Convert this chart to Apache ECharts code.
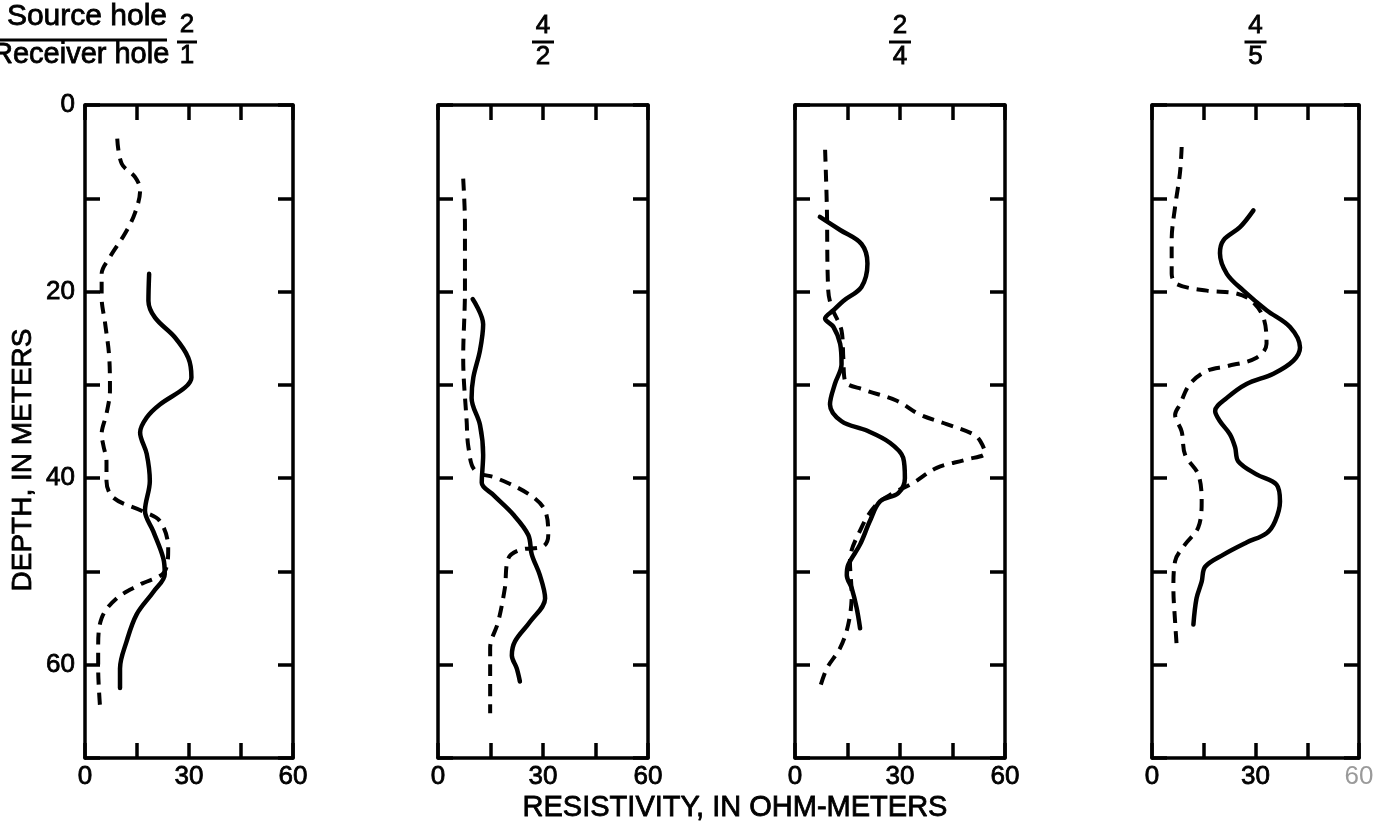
<!DOCTYPE html>
<html>
<head>
<meta charset="utf-8">
<script src="https://cdn.jsdelivr.net/npm/echarts@6/dist/echarts.min.js"></script>
<style>html,body{margin:0;padding:0;background:#fff}#c{width:1387px;height:834px}</style>
</head>
<body>
<div id="c"></div>
<script>
// ---- data: [resistivity (ohm-m), depth (m)] ----
const xTickLabels = [0, 30, 60];
const yTickLabels = [0, 20, 40, 60];
const panelTitles = [['2', '1'], ['4', '2'], ['2', '4'], ['4', '5']];

const p1Solid = [[18.5,18.1],[18.3,21],[20.2,22.8],[25.9,24.9],[29.8,27.1],[30.7,29.2],[28.8,30.3],[21.6,32.1],[17.8,33.5],[15.9,35.1],[17.8,37.4],[18.7,40.3],[17.3,43.5],[19.7,45.7],[22.6,48.6],[23,50.3],[19.7,52.2],[14.9,54.6],[12,57.5],[10.1,60.4],[10.1,62.5]];
const p1Dashed = [[9.3,3.6],[10.6,6.3],[14.4,7.7],[15.9,9.1],[14.4,11.6],[11.5,13.8],[7.2,16.3],[4.8,18.1],[4.8,20.6],[5.8,23.4],[7.0,27.1],[7.2,30.6],[6.2,33.1],[4.8,35.3],[5.3,36.5],[6.2,38.2],[6.2,40.3],[8.2,42.1],[16.3,43.5],[21.6,44.6],[24,47.5],[23,50],[15.9,51.4],[9.1,52.9],[4.8,55],[3.8,58.2],[3.8,60.4],[4.3,64.3]];

const p2Solid = [[9.9,20.8],[12.9,23.5],[12,26.3],[10.1,29.2],[9.6,31.4],[12,34.3],[12.9,37.5],[12.5,40.5],[15.8,41.8],[21.5,43.9],[25.8,46.1],[26.8,48.2],[29.1,50.4],[30.6,52.9],[26.3,55.4],[22,57.5],[21.1,59],[22.5,60.4],[23.4,61.8]];
const p2Dashed = [[7.2,7.9],[7.7,12.7],[7.7,19.9],[7.2,27.1],[8.2,34],[8.7,36.7],[10.6,39.2],[16.8,40],[26.3,41.8],[30.6,43.5],[31.5,46.1],[30.1,47.3],[23.4,47.7],[20.1,48.6],[19.1,51.8],[17.2,55.4],[14.9,58.2],[14.9,61.8],[14.9,65.2]];

const p3Solid = [[7.1,12],[12.9,13.4],[19,14.9],[20.7,17],[19,19.5],[13.8,21],[11,22],[8.6,22.9],[11,23.8],[12.9,25.6],[13.3,27.8],[11.4,29.9],[10,32.1],[13.3,33.9],[20.5,34.9],[27.1,36.2],[30.9,37.8],[31.4,40],[29.5,41.6],[24.3,42.5],[21.4,44.6],[18.6,47.1],[15.2,49.3],[14.8,50.4],[16.2,51.8],[17.6,53.9],[18.6,56.1]];
const p3Dashed = [[8.6,4.8],[9.1,10.9],[9.5,19.9],[10.5,21.7],[13.3,24.2],[13.8,27.1],[14.3,29.6],[19.5,30.5],[29.1,31.7],[35.7,33.2],[43.3,34.2],[51,35.3],[52.9,36],[54.3,37.3],[49,38],[40.5,38.9],[33.8,40.5],[28.1,41.6],[23.3,42.8],[19,45.3],[15.7,48.9],[16.2,52.5],[15.2,55.7],[12.9,58.2],[9.1,60.4],[7.1,62.5]];

const p4Solid = [[29.4,11.3],[25.5,13.1],[20.7,14.5],[19.7,15.9],[21.7,18.1],[26.5,19.9],[33.2,22],[40,23.8],[42.9,26],[41,27.4],[35.2,28.8],[27.4,29.9],[21.7,31.4],[18.3,32.8],[19.7,33.9],[22.6,35.3],[24.1,36.7],[25,38.2],[30.3,39.6],[36.1,40.7],[37.1,42.5],[35.7,44.6],[33.2,45.9],[27.4,46.9],[20.7,48.2],[15.4,49.5],[14.4,51.1],[12.9,52.9],[12,55.7]];
const p4Dashed = [[8.6,4.5],[8.1,7.3],[6.7,10.9],[5.7,14.5],[5.7,18.1],[7.2,19.2],[15.9,19.9],[24.5,20.2],[28.9,21],[32.3,22.8],[33.2,25.6],[30.3,27.1],[21.7,28],[15.9,28.5],[11,29.9],[8.1,32.1],[6.7,33.2],[8.6,35],[9.6,37.5],[13.4,39.6],[14.4,42.5],[13.4,45.3],[9.6,47.1],[6.7,48.9],[6.2,51.8],[6.7,55.4],[7.2,58.2]];

const solidSets = [p1Solid, p2Solid, p3Solid, p4Solid];
const dashedSets = [p1Dashed, p2Dashed, p3Dashed, p4Dashed];

// ---- layout ----
const lefts = [85, 438, 795, 1152];
const widths = [208, 210, 210, 207];
const TOP = 105, HEIGHT = 653;
const FONT = 'Liberation Sans, Arial, Helvetica, sans-serif';

const grids = [], xAxes = [], yAxes = [], series = [], graphics = [];
const axLine = {show: true, onZero: false, lineStyle: {color: '#000', width: 3.5}};
const tick = {show: true, inside: true, length: 15, lineStyle: {color: '#000', width: 3.5}};
const txtBold = {textBorderColor: '#000', textBorderWidth: 0.8};

for (let i = 0; i < 4; i++) {
  grids.push({left: lefts[i], top: TOP, width: widths[i], height: HEIGHT});
  // bottom x
  xAxes.push({
    type: 'value', gridIndex: i, position: 'bottom', min: 0, max: 60, interval: 15,
    axisLine: axLine, axisTick: tick, splitLine: {show: false},
    axisLabel: {
      margin: 6, fontFamily: FONT, fontSize: 26, color: '#000', ...txtBold,
      formatter: v => xTickLabels.includes(v) ? (i === 3 && v === 60 ? '{f|' + v + '}' : String(v)) : '',
      rich: {f: {color: '#9a9a9a', fontFamily: FONT, fontSize: 26, textBorderWidth: 0}}
    }
  });
  // top x (ticks only)
  xAxes.push({
    type: 'value', gridIndex: i, position: 'top', min: 0, max: 60, interval: 15,
    axisLine: axLine, axisTick: tick, splitLine: {show: false}, axisLabel: {show: false}
  });
  // left y
  yAxes.push({
    type: 'value', gridIndex: i, position: 'left', inverse: true, min: 0, max: 70, interval: 10,
    axisLine: axLine, axisTick: tick, splitLine: {show: false},
    axisLabel: {
      show: i === 0, margin: 10, fontFamily: FONT, fontSize: 26, color: '#000', ...txtBold,
      formatter: v => yTickLabels.includes(v) ? String(v) : ''
    }
  });
  // right y (ticks only)
  yAxes.push({
    type: 'value', gridIndex: i, position: 'right', inverse: true, min: 0, max: 70, interval: 10,
    axisLine: axLine, axisTick: tick, splitLine: {show: false}, axisLabel: {show: false}
  });

  series.push({
    type: 'line', xAxisIndex: 2 * i, yAxisIndex: 2 * i, data: solidSets[i],
    smooth: 0.35, showSymbol: false, silent: true,
    lineStyle: {color: '#000', width: 4.5, cap: 'round', join: 'round'}
  });
  series.push({
    type: 'line', xAxisIndex: 2 * i, yAxisIndex: 2 * i, data: dashedSets[i],
    smooth: 0.35, showSymbol: false, silent: true,
    lineStyle: {color: '#000', width: 4, type: [12, 8], cap: 'butt'}
  });

  if (i > 0) {
    const cx = lefts[i] + widths[i] / 2;
    graphics.push({type: 'text', x: cx, y: 26, style: {text: panelTitles[i][0], fill: '#000', font: '26px ' + FONT, textAlign: 'center', textVerticalAlign: 'middle', stroke: '#000', lineWidth: 0.8}});
    graphics.push({type: 'line', shape: {x1: cx - 11, y1: 42, x2: cx + 11, y2: 42}, style: {stroke: '#000', lineWidth: 3}});
    graphics.push({type: 'text', x: cx, y: 57, style: {text: panelTitles[i][1], fill: '#000', font: '26px ' + FONT, textAlign: 'center', textVerticalAlign: 'middle', stroke: '#000', lineWidth: 0.8}});
  }
}

// first panel title: Source hole / Receiver hole
const tStyle = (text, size, align) => ({text: text, fill: '#000', font: size + 'px ' + FONT, textAlign: align, textVerticalAlign: 'middle', stroke: '#000', lineWidth: 0.8});
graphics.push({type: 'text', x: 167, y: 17, style: tStyle('Source hole', 30, 'right')});
graphics.push({type: 'line', shape: {x1: 0, y1: 40, x2: 167, y2: 40}, style: {stroke: '#000', lineWidth: 3}});
graphics.push({type: 'text', x: -8, y: 55, style: tStyle('Receiver hole', 29, 'left')});
graphics.push({type: 'text', x: 187, y: 25, style: tStyle(panelTitles[0][0], 26, 'center')});
graphics.push({type: 'line', shape: {x1: 177, y1: 42, x2: 197, y2: 42}, style: {stroke: '#000', lineWidth: 3}});
graphics.push({type: 'text', x: 187, y: 56, style: tStyle(panelTitles[0][1], 26, 'center')});

// axis names
graphics.push({type: 'text', x: 23, y: 460, rotation: Math.PI / 2, style: tStyle('DEPTH, IN METERS', 28, 'center')});
graphics.push({type: 'text', x: 735, y: 808, style: tStyle('RESISTIVITY, IN OHM-METERS', 29, 'center')});

const chart = echarts.init(document.getElementById('c'), null, {renderer: 'canvas'});
chart.setOption({
  animation: false,
  backgroundColor: '#fff',
  grid: grids, xAxis: xAxes, yAxis: yAxes, series: series, graphic: graphics
});
</script>
</body>
</html>
